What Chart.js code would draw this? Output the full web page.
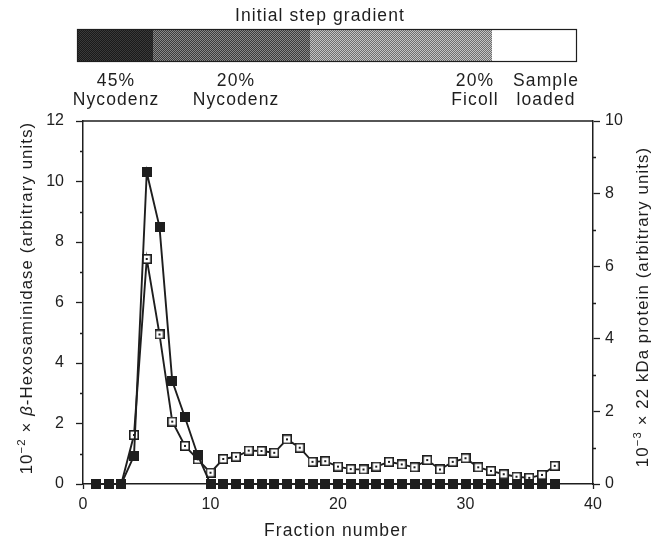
<!DOCTYPE html>
<html>
<head>
<meta charset="utf-8">
<script src="https://cdn.jsdelivr.net/npm/chart.js@4.4.0/dist/chart.umd.min.js"></script>
<style>
  html, body { margin: 0; padding: 0; background: #fff; }
  #wrap { position: relative; width: 669px; height: 542px; }
</style>
</head>
<body>
<div id="wrap"><canvas id="fractions-chart" width="669" height="542"></canvas></div>
<script>
// Fraction numbers collected from the gradient
const fractions = [1, 2, 3, 4, 5, 6, 7, 8, 9, 10, 11, 12, 13, 14, 15, 16, 17, 18, 19,
  20, 21, 22, 23, 24, 25, 26, 27, 28, 29, 30, 31, 32, 33, 34, 35, 36, 37];

// 10^-2 x beta-hexosaminidase (left axis, filled squares)
const hexosaminidase = [0, 0, 0, 0.93, 10.3, 8.5, 3.4, 2.2, 0.95, 0, 0, 0, 0, 0, 0, 0, 0, 0, 0,
  0, 0, 0, 0, 0, 0, 0, 0, 0, 0, 0, 0, 0, 0, 0, 0, 0, 0];

// 10^-3 x 22 kDa protein (right axis, open squares)
const protein22 = [0, 0, 0, 1.35, 6.2, 4.12, 1.72, 1.05, 0.68, 0.31, 0.69, 0.75, 0.92, 0.91, 0.86,
  1.23, 1.0, 0.61, 0.63, 0.48, 0.41, 0.40, 0.48, 0.61, 0.54, 0.46, 0.66, 0.40, 0.61, 0.71,
  0.46, 0.36, 0.27, 0.20, 0.17, 0.25, 0.50];

// Step gradient layers, bottom of the tube first
const layerNames = [['45%', 'Nycodenz'], ['20%', 'Nycodenz'], ['20%', 'Ficoll'], ['Sample', 'loaded']];

const xTicks = [0, 10, 20, 30, 40];
const leftMinor = [1, 3, 5, 7, 9, 11];
const rightMinor = [1, 3, 5, 7, 9];

const INK = '#1e1e1e';
const FONT = '"Liberation Sans", Arial, sans-serif';
const SPACING = '1.1px';

function makeMarker(open) {
    const c = document.createElement('canvas');
    c.width = 10; c.height = 10;
    const g = c.getContext('2d');
    if (open) {
        g.fillStyle = '#fff';
        g.fillRect(0, 0, 10, 10);
        g.strokeStyle = INK;
        g.lineWidth = 1.6;
        g.strokeRect(0.8, 0.8, 8.4, 8.4);
        g.fillStyle = INK;
        g.fillRect(4, 4, 2, 2);
    } else {
        g.fillStyle = INK;
        g.fillRect(0, 0, 10, 10);
    }
    return c;
}

function makeStipple(base, dot) {
    const c = document.createElement('canvas');
    c.width = 2; c.height = 2;
    const g = c.getContext('2d');
    g.fillStyle = base;
    g.fillRect(0, 0, 2, 2);
    g.fillStyle = dot;
    g.fillRect(0, 0, 1, 1);
    g.fillRect(1, 1, 1, 1);
    return c;
}

// Draws a line of text made of runs, some raised as superscripts
function drawRuns(ctx, runs, size) {
    let total = 0;
    runs.forEach(r => {
        ctx.font = (r.italic ? 'italic ' : '') + (r.sup ? size * 0.68 : size) + 'px ' + FONT;
        r.w = ctx.measureText(r.t).width;
        total += r.w;
    });
    let x = -total / 2;
    runs.forEach(r => {
        ctx.font = (r.italic ? 'italic ' : '') + (r.sup ? size * 0.68 : size) + 'px ' + FONT;
        ctx.fillText(r.t, x, r.sup ? -size * 0.4 : 0);
        x += r.w;
    });
}

const decorations = {
    id: 'decorations',
    afterDraw(chart) {
        const ctx = chart.ctx;
        const area = chart.chartArea;
        const yL = chart.scales.y;
        const yR = chart.scales.y1;
        ctx.save();

        // frame top and minor ticks on both value axes
        ctx.strokeStyle = INK;
        ctx.lineWidth = 1.5;
        ctx.beginPath();
        ctx.moveTo(area.left, area.top);
        ctx.lineTo(area.right, area.top);
        ctx.stroke();
        ctx.lineWidth = 1.3;
        ctx.beginPath();
        leftMinor.forEach(v => {
            const py = Math.round(yL.getPixelForValue(v)) + 0.5;
            ctx.moveTo(area.left - 3, py);
            ctx.lineTo(area.left, py);
        });
        rightMinor.forEach(v => {
            const py = Math.round(yR.getPixelForValue(v)) + 0.5;
            ctx.moveTo(area.right, py);
            ctx.lineTo(area.right + 3, py);
        });
        ctx.stroke();

        ctx.fillStyle = INK;
        ctx.letterSpacing = SPACING;
        ctx.textBaseline = 'alphabetic';

        // gradient bar above the plot
        ctx.font = '17.5px ' + FONT;
        ctx.textAlign = 'center';
        ctx.fillText('Initial step gradient', 320, 21);

        const edges = [77, 153, 310, 492, 577];
        const fills = [
            ctx.createPattern(makeStipple('#1a1a1a', '#3a3a3a'), 'repeat'),
            ctx.createPattern(makeStipple('#3c3c3c', '#8a8a8a'), 'repeat'),
            ctx.createPattern(makeStipple('#6e6e6e', '#c4c4c4'), 'repeat'),
            '#ffffff'
        ];
        for (let i = 0; i < 4; i++) {
            ctx.fillStyle = fills[i];
            ctx.fillRect(edges[i], 29, edges[i + 1] - edges[i], 33);
        }
        ctx.strokeStyle = INK;
        ctx.lineWidth = 1.2;
        ctx.strokeRect(77.5, 29.5, 499, 32);

        ctx.fillStyle = INK;
        const centers = [116, 236, 475, 546];
        layerNames.forEach((lines, i) => {
            ctx.fillText(lines[0], centers[i], 86);
            ctx.fillText(lines[1], centers[i], 105);
        });

        // axis titles
        ctx.textAlign = 'left';
        ctx.save();
        ctx.translate(32, 298);
        ctx.rotate(-Math.PI / 2);
        drawRuns(ctx, [{ t: '10' }, { t: '−2', sup: true }, { t: ' × ' }, { t: 'β', italic: true },
            { t: '-Hexosaminidase (arbitrary units)' }], 16.8);
        ctx.restore();

        ctx.save();
        ctx.translate(648, 307);
        ctx.rotate(-Math.PI / 2);
        drawRuns(ctx, [{ t: '10' }, { t: '−3', sup: true }, { t: ' × 22 kDa protein (arbitrary units)' }], 16.8);
        ctx.restore();

        ctx.textAlign = 'center';
        ctx.font = '17.5px ' + FONT;
        ctx.fillText('Fraction number', 336, 536);
        ctx.letterSpacing = '0px';
        ctx.restore();
    }
};

const grid = len => ({
    drawOnChartArea: false,
    drawTicks: true,
    tickLength: len,
    tickWidth: 1.3,
    tickColor: INK
});

const tickFont = { size: 16, family: FONT };

new Chart(document.getElementById('fractions-chart'), {
    type: 'line',
    data: {
        datasets: [
            {
                label: 'beta-Hexosaminidase',
                data: fractions.map((f, i) => ({ x: f, y: hexosaminidase[i] })),
                yAxisID: 'y',
                borderColor: INK,
                borderWidth: 1.9,
                pointStyle: makeMarker(false),
                clip: false,
                tension: 0
            },
            {
                label: '22 kDa protein',
                data: fractions.map((f, i) => ({ x: f, y: protein22[i] })),
                yAxisID: 'y1',
                borderColor: INK,
                borderWidth: 1.9,
                pointStyle: makeMarker(true),
                clip: false,
                tension: 0
            }
        ]
    },
    options: {
        responsive: false,
        animation: false,
        layout: { padding: { top: 121, left: 0, right: 0, bottom: 0 } },
        plugins: { legend: { display: false }, tooltip: { enabled: false } },
        scales: {
            x: {
                type: 'linear',
                min: 0,
                max: 40,
                afterBuildTicks: scale => { scale.ticks = xTicks.map(v => ({ value: v })); },
                ticks: { color: INK, font: tickFont, padding: 6, maxRotation: 0 },
                grid: grid(5),
                border: { color: INK, width: 1.5 },
                afterFit: scale => { scale.height = 58; }
            },
            y: {
                position: 'left',
                min: 0,
                max: 12,
                ticks: { stepSize: 2, color: INK, font: tickFont, padding: 12 },
                grid: grid(7),
                border: { color: INK, width: 1.5 },
                afterFit: scale => { scale.width = 83; }
            },
            y1: {
                position: 'right',
                min: 0,
                max: 10,
                ticks: { stepSize: 2, color: INK, font: tickFont, padding: 5 },
                grid: grid(7),
                border: { color: INK, width: 1.5 },
                afterFit: scale => { scale.width = 76; }
            }
        }
    },
    plugins: [decorations]
});
</script>
</body>
</html>
